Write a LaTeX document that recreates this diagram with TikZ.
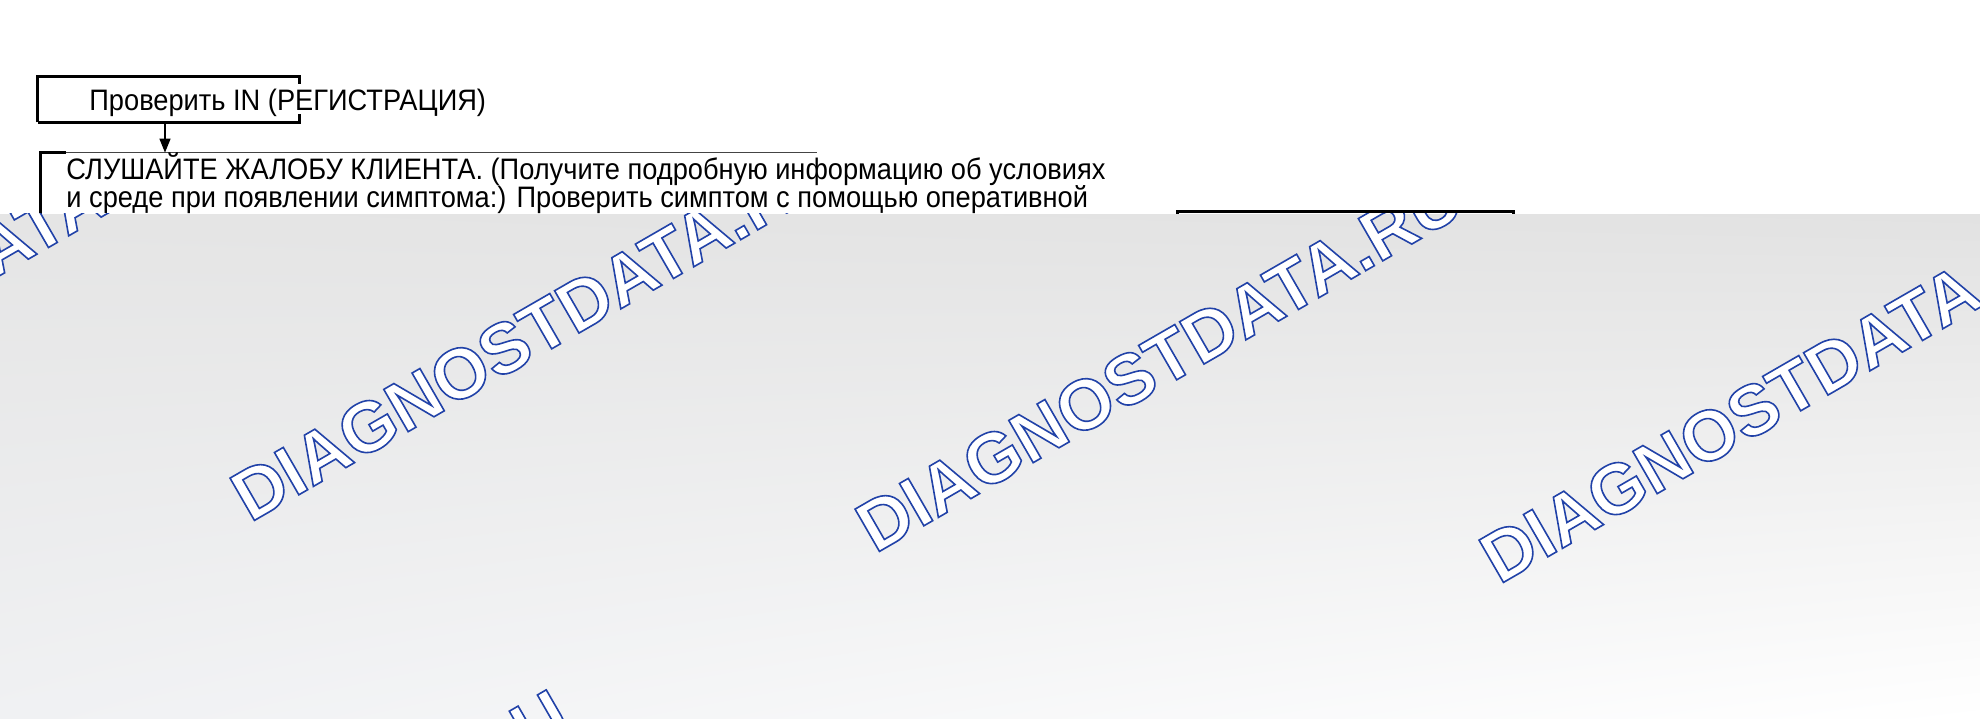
\documentclass[tikz,border=0pt]{standalone}
\usepackage{fontspec}
\setmainfont[FakeStretch=0.92]{Liberation Sans}
\newfontfamily\wmfont[BoldFont={Liberation Sans Bold}]{Liberation Sans}
\usetikzlibrary{arrows.meta,fit,shadings}
\definecolor{gUL}{HTML}{E5E5E5}
\definecolor{gUR}{HTML}{E2E2E2}
\definecolor{gLL}{HTML}{F0F1F3}
\definecolor{gLR}{HTML}{FFFFFF}
\definecolor{linegray}{HTML}{444444}
\newcommand\wmtext{\special{pdf:literal direct 2 Tr 0.8 w 0.13 0.26 0.66 RG}DIAGNOSTDATA.RU\special{pdf:literal direct 0 Tr}}
\begin{document}
\begin{tikzpicture}[x=0.5pt,y=-0.5pt,
  txt/.style={font=\fontsize{14.8}{17}\selectfont, inner sep=0, anchor=base west},
  wm/.style={font=\wmfont\bfseries\fontsize{35.5}{40}\selectfont, text=white, inner sep=0, anchor=base west, rotate=30},
  edge/.style={line width=1.3pt, black},
  thinedge/.style={line width=0.8pt, linegray},
  boxarea/.style={inner sep=0, draw=none}]
\useasboundingbox (0,0) rectangle (1980,718);
\fill[white] (0,0) rectangle (1980,718);
% box 1
\coordinate (b1a) at (38,77);
\coordinate (b1b) at (299,122);
\node[boxarea, fit=(b1a)(b1b)] (box1) {};
\draw[edge] (box1.south west) -- (box1.north west) -- (box1.north east) -- ++(0,7);
\draw[edge] (box1.south west) -- (box1.south east) -- ++(0,-8);
\node[txt] (t1) at (89,110) {Проверить IN (РЕГИСТРАЦИЯ)};
% box 2
\coordinate (b2a) at (41,153);
\coordinate (b2b) at (817,300);
\node[boxarea, fit=(b2a)(b2b)] (box2) {};
\draw[thinedge] (box2.north west) -- (box2.north east);
\draw[edge] (box2.south west) -- (box2.north west) -- ++(25,0);
\node[txt] (t2a) at (66,179) {СЛУШАЙТЕ ЖАЛОБУ КЛИЕНТА. (Получите подробную информацию об условиях};
\node[txt] (t2b) at (66,207) {и среде при появлении симптома:) Проверить симптом с помощью оперативной};
% arrow
\coordinate (ax) at (165,0);
\draw[line width=0.7pt, -{Triangle[width=5.5pt,length=7pt]}] (box1.south -| ax) -- (box2.north -| ax);
% box 3
\coordinate (b3a) at (1178,212);
\coordinate (b3b) at (1513,300);
\node[boxarea, fit=(b3a)(b3b)] (box3) {};
\draw[line width=1.6pt] (box3.south west) -- (box3.north west) -- (box3.north east) -- (box3.south east);
% gray overlay
\shade[upper left=gUL, upper right=gUR, lower left=gLL, lower right=gLR] (0,214.5) rectangle (1980,718);
% watermarks
\begin{scope}
\clip (0,213) rectangle (1980,718);
\node[wm] (wm0) at (-375,492) {\wmtext};
\node[wm] (wm1) at (250,523) {\wmtext};
\node[wm] (wm2) at (875,554) {\wmtext};
\node[wm] (wm3) at (1499,585) {\wmtext};
\node[wm] (wm4) at (-18,1072) {\wmtext};
\end{scope}
\end{tikzpicture}
\end{document}
